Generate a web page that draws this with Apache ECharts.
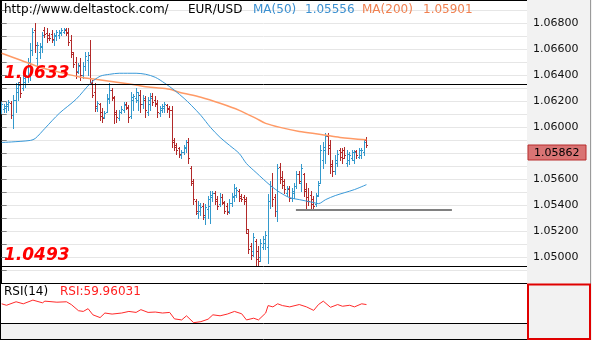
<!DOCTYPE html>
<html><head><meta charset="utf-8">
<script src="https://cdn.jsdelivr.net/npm/echarts@6/dist/echarts.min.js"></script>
<style>html,body{margin:0;padding:0;background:#f2f2f2}#c{width:592px;height:340px}</style>
</head><body><div id="c"></div>
<script>
// ---- data (EUR/USD OHLC bars, index = bar number) ----
const opens = [
1.06119,1.06135,1.06142,1.06158,1.06181,1.06088,1.06204,1.06266,1.06343,1.06297,
1.06343,1.06389,1.06474,1.06590,1.06744,1.06528,1.06574,1.06613,1.06744,1.06721,
1.06705,1.06713,1.06667,1.06697,1.06705,1.06721,1.06728,1.06744,1.06728,1.06667,
1.06559,1.06497,1.06428,1.06474,1.06397,1.06466,1.06512,1.06551,1.06335,1.06266,
1.06142,1.06173,1.06112,1.06073,1.06112,1.06212,1.06281,1.06219,1.06112,1.06065,
1.06112,1.06127,1.06173,1.06142,1.06081,1.06204,1.06219,1.06204,1.06243,1.06173,
1.06204,1.06112,1.06173,1.06235,1.06204,1.06181,1.06104,1.06127,1.06142,1.06165,
1.06142,1.06127,1.05896,1.05857,1.05834,1.05780,1.05803,1.05834,1.05880,1.05680,
1.05572,1.05433,1.05341,1.05356,1.05394,1.05310,1.05371,1.05394,1.05464,1.05495,
1.05448,1.05410,1.05464,1.05418,1.05394,1.05356,1.05418,1.05464,1.05479,1.05510,
1.05472,1.05464,1.05448,1.05186,1.05086,1.05048,1.05125,1.05048,1.05001,1.05078,
1.05109,1.05078,1.05433,1.05549,1.05464,1.05356,1.05695,1.05618,1.05587,1.05495,
1.05526,1.05456,1.05495,1.05549,1.05641,1.05572,1.05634,1.05526,1.05464,1.05479,
1.05448,1.05410,1.05479,1.05572,1.05742,1.05819,1.05926,1.05857,1.05718,1.05664,
1.05726,1.05819,1.05803,1.05826,1.05726,1.05742,1.05757,1.05749,1.05811,1.05772,
1.05780,1.05803,1.05896];
const highs = [
1.06189,1.06173,1.06189,1.06204,1.06196,1.06243,1.06335,1.06343,1.06381,1.06412,
1.06420,1.06528,1.06643,1.06759,1.06798,1.06651,1.06643,1.06728,1.06767,1.06759,
1.06721,1.06744,1.06721,1.06744,1.06744,1.06759,1.06759,1.06759,1.06759,1.06705,
1.06574,1.06536,1.06489,1.06528,1.06497,1.06574,1.06574,1.06667,1.06358,1.06335,
1.06196,1.06181,1.06142,1.06119,1.06250,1.06335,1.06297,1.06235,1.06127,1.06127,
1.06158,1.06189,1.06189,1.06165,1.06266,1.06250,1.06297,1.06266,1.06281,1.06243,
1.06235,1.06227,1.06258,1.06258,1.06235,1.06204,1.06158,1.06173,1.06189,1.06173,
1.06158,1.06158,1.05911,1.05873,1.05849,1.05819,1.05857,1.05896,1.05911,1.05703,
1.05603,1.05448,1.05433,1.05418,1.05418,1.05410,1.05472,1.05510,1.05510,1.05510,
1.05472,1.05495,1.05487,1.05433,1.05418,1.05448,1.05495,1.05564,1.05541,1.05526,
1.05487,1.05479,1.05464,1.05217,1.05109,1.05186,1.05140,1.05086,1.05140,1.05163,
1.05202,1.05487,1.05587,1.05649,1.05487,1.05718,1.05726,1.05664,1.05603,1.05549,
1.05549,1.05533,1.05572,1.05664,1.05664,1.05718,1.05649,1.05572,1.05533,1.05510,
1.05472,1.05495,1.05587,1.05857,1.05880,1.05950,1.05950,1.05896,1.05742,1.05780,
1.05819,1.05834,1.05834,1.05842,1.05819,1.05803,1.05819,1.05819,1.05826,1.05834,
1.05834,1.05896,1.05919];
const lows = [
1.06104,1.06112,1.06112,1.06127,1.06065,1.05988,1.06112,1.06204,1.06227,1.06281,
1.06304,1.06343,1.06358,1.06551,1.06574,1.06474,1.06528,1.06574,1.06690,1.06651,
1.06667,1.06651,1.06628,1.06667,1.06682,1.06705,1.06721,1.06705,1.06628,1.06536,
1.06458,1.06374,1.06412,1.06358,1.06374,1.06435,1.06397,1.06343,1.06227,1.06119,
1.06119,1.06050,1.06034,1.06065,1.06112,1.06181,1.06204,1.06027,1.06034,1.06050,
1.06104,1.06112,1.06135,1.06034,1.06065,1.06127,1.06189,1.06127,1.06112,1.06142,
1.06073,1.06088,1.06127,1.06165,1.06158,1.06073,1.06081,1.06112,1.06112,1.06112,
1.06073,1.05842,1.05819,1.05795,1.05772,1.05757,1.05788,1.05803,1.05726,1.05556,
1.05410,1.05333,1.05302,1.05325,1.05294,1.05256,1.05302,1.05263,1.05433,1.05410,
1.05371,1.05394,1.05410,1.05341,1.05333,1.05341,1.05394,1.05433,1.05464,1.05433,
1.05433,1.05410,1.05186,1.05032,1.04986,1.05009,1.04940,1.04932,1.04971,1.05063,
1.05063,1.04955,1.05379,1.05394,1.05317,1.05279,1.05572,1.05533,1.05495,1.05472,
1.05433,1.05433,1.05456,1.05533,1.05572,1.05510,1.05472,1.05364,1.05402,1.05364,
1.05371,1.05394,1.05472,1.05572,1.05687,1.05726,1.05795,1.05649,1.05626,1.05641,
1.05703,1.05742,1.05726,1.05757,1.05703,1.05718,1.05742,1.05726,1.05757,1.05757,
1.05757,1.05780,1.05849];
const closes = [
1.06173,1.06158,1.06173,1.06189,1.06088,1.06204,1.06297,1.06320,1.06258,1.06374,
1.06397,1.06497,1.06590,1.06728,1.06628,1.06628,1.06620,1.06705,1.06713,1.06682,
1.06682,1.06674,1.06705,1.06728,1.06728,1.06744,1.06751,1.06721,1.06651,1.06574,
1.06482,1.06420,1.06466,1.06397,1.06466,1.06543,1.06551,1.06374,1.06243,1.06158,
1.06181,1.06081,1.06065,1.06104,1.06219,1.06281,1.06227,1.06096,1.06073,1.06112,
1.06135,1.06165,1.06150,1.06073,1.06227,1.06235,1.06266,1.06243,1.06173,1.06219,
1.06127,1.06204,1.06219,1.06189,1.06173,1.06112,1.06142,1.06158,1.06173,1.06135,
1.06127,1.05880,1.05849,1.05819,1.05795,1.05803,1.05842,1.05880,1.05757,1.05587,
1.05448,1.05356,1.05402,1.05387,1.05325,1.05387,1.05448,1.05479,1.05495,1.05433,
1.05394,1.05464,1.05425,1.05356,1.05348,1.05418,1.05472,1.05533,1.05518,1.05456,
1.05448,1.05433,1.05217,1.05063,1.05017,1.05155,1.04986,1.04971,1.05109,1.05140,
1.05171,1.05433,1.05549,1.05448,1.05356,1.05680,1.05603,1.05556,1.05526,1.05533,
1.05456,1.05510,1.05549,1.05634,1.05587,1.05680,1.05510,1.05433,1.05433,1.05410,
1.05394,1.05472,1.05556,1.05819,1.05849,1.05926,1.05834,1.05703,1.05664,1.05742,
1.05788,1.05765,1.05757,1.05780,1.05795,1.05780,1.05803,1.05803,1.05780,1.05819,
1.05819,1.05880,1.05862];

// moving averages: [bar index, value]
const ma50 = [[0,1.05880],[4,1.05884],[12,1.05896],[14,1.05911],[18,1.05988],[24,1.06104],[31,1.06212],[37,1.06335],[41,1.06389],[45,1.06404],[49,1.06412],[56,1.06412],[60,1.06404],[64,1.06381],[68,1.06335],[72,1.06281],[76,1.06219],[79,1.06166],[83,1.06088],[87,1.05996],[91,1.05919],[95,1.05857],[99,1.05795],[102,1.05718],[106,1.05649],[112,1.05549],[116,1.05495],[120,1.05456],[124,1.05441],[130,1.05418],[132,1.05410],[135,1.05441],[139,1.05472],[143,1.05495],[147,1.05518],[152,1.05556]];
const ma200 = [[0,1.06566],[8,1.06512],[16,1.06458],[24,1.06420],[33,1.06381],[39,1.06366],[45,1.06351],[54,1.06327],[62,1.06304],[70,1.06289],[74,1.06266],[83,1.06227],[91,1.06181],[99,1.06127],[106,1.06065],[110,1.06027],[116,1.05996],[124,1.05965],[133,1.05942],[141,1.05919],[152,1.05901]];
// RSI(14): [bar index, value]
const rsi = [[0,61.2],[2,58.8],[6,64.5],[9,61.2],[13,67.2],[17,62.8],[18,65.5],[23,63.8],[27,64.5],[29,60],[32,50],[34,48.8],[36,53.3],[38,43.3],[41,38.8],[43,46.2],[46,44.5],[50,46.2],[53,48.8],[56,47.2],[58,51.7],[61,47.2],[64,47.8],[67,46.2],[70,47.2],[72,36.7],[75,35],[77,41.7],[80,30.5],[83,32.2],[86,36.2],[88,43.3],[91,41.7],[94,44.5],[97,48.8],[100,45],[102,35],[105,37.8],[107,35],[110,46.2],[111,58.3],[113,56.2],[115,61.2],[117,58.3],[120,56.2],[124,60],[127,56.2],[130,50.5],[132,60],[134,65.5],[137,55.5],[140,60],[142,57.2],[145,58.8],[147,56.2],[150,61.2],[152,59.96031]];

const levels = [1.0633, 1.0493];                       // horizontal levels
const support = {from: 122.6, to: 187.6, price: 1.05364}; // grey support segment (bar index range)
const labelValues = [1.050,1.052,1.054,1.056,1.058,1.060,1.062,1.064,1.066,1.068];
const tickValues = [1.049,1.050,1.051,1.052,1.053,1.054,1.055,1.056,1.057,1.058,1.059,1.060,1.061,1.062,1.063,1.064,1.065,1.066,1.067,1.068,1.069];
const header = {site: 'http://www.deltastock.com/', symbol: 'EUR/USD', ma50: 'MA(50)', ma200: 'MA(200)', rsi: 'RSI(14)'};

// ---- chart ----
const FONT = '"DejaVu Sans", Verdana, sans-serif';
const UP = '#3399cc', DOWN = '#b22a2a';
const bars = opens.map((o, i) => [i, o, highs[i], lows[i], closes[i]]);

function renderBar(params, api) {
  const i = api.value(0);
  const o = api.coord([i, api.value(1)]);
  const h = api.coord([i, api.value(2)]);
  const l = api.coord([i, api.value(3)]);
  const c = api.coord([i, api.value(4)]);
  const cx = Math.floor(o[0]) + 0.5;
  const color = api.value(4) >= api.value(1) ? UP : DOWN;
  const oy = Math.round(o[1]) + 0.5, cy = Math.round(c[1]) + 0.5;
  const st = {stroke: color, lineWidth: 1};
  return {type: 'group', children: [
    {type: 'line', shape: {x1: cx, y1: Math.round(h[1]), x2: cx, y2: Math.round(l[1]) + 1}, style: st},
    {type: 'line', shape: {x1: cx - 1.5, y1: oy, x2: cx, y2: oy}, style: st},
    {type: 'line', shape: {x1: cx, y1: cy, x2: cx + 1.5, y2: cy}, style: st}
  ]};
}

const XMAX = -0.7 + 527 / 2.4;
const levelLabel = {show: true, position: 'insideStartTop', distance: [4, 2], color: '#ff0000',
  fontSize: 17, fontWeight: 'bold', fontStyle: 'italic', fontFamily: FONT};

const chart = echarts.init(document.getElementById('c'), null, {renderer: 'canvas', width: 592, height: 340});
chart.setOption({
  animation: false,
  backgroundColor: '#f2f2f2',
  grid: [
    {left: 0, top: 0, width: 527, height: 283, show: true, backgroundColor: '#fff', borderWidth: 0, containLabel: false, outerBoundsMode: 'none'},
    {left: 0, top: 283, width: 527, height: 40, show: true, backgroundColor: '#fff', borderWidth: 0, containLabel: false, outerBoundsMode: 'none'}
  ],
  xAxis: [
    {type: 'value', gridIndex: 0, min: -0.7, max: XMAX, show: false},
    {type: 'value', gridIndex: 1, min: -0.7, max: XMAX, show: false}
  ],
  yAxis: [
    {type: 'value', gridIndex: 0, position: 'right', min: 1.048, max: 1.06975, interval: 0.002,
     axisLine: {show: true, lineStyle: {color: '#000', width: 1}},
     axisTick: {show: true, inside: false, length: 5, customValues: tickValues, lineStyle: {color: '#808080'}},
     minorTick: {show: false},
     axisLabel: {show: true, customValues: labelValues, margin: 6, color: '#111', fontFamily: FONT, fontSize: 11,
       formatter: v => (v < 1.0495 || v > 1.0685) ? '' : v.toFixed(5)},
     splitLine: {show: true, lineStyle: {color: '#e6e6e6', width: 1}}},
    {type: 'value', gridIndex: 0, position: 'left', min: 1.048, max: 1.06975, interval: 0.002,
     axisLine: {show: false},
     axisTick: {show: true, inside: true, length: 2, customValues: labelValues, lineStyle: {color: '#444'}},
     axisLabel: {show: false}, splitLine: {show: false}},
    {type: 'value', gridIndex: 1, min: 30, max: 95, show: false}
  ],
  series: [
    {type: 'custom', name: 'EUR/USD', xAxisIndex: 0, yAxisIndex: 0, renderItem: renderBar, data: bars,
     encode: {x: 0, y: [1, 2, 3, 4]}, clip: true, silent: true, z: 2},
    {type: 'line', name: 'MA200', xAxisIndex: 0, yAxisIndex: 0, data: ma200, showSymbol: false, smooth: 0.3,
     lineStyle: {color: '#ff9a66', width: 1.5}, silent: true, z: 3,
     markLine: {silent: true, symbol: ['none', 'none'], animation: false, precision: 5,
       data: [
         {yAxis: levels[0], lineStyle: {color: '#000', width: 1, type: 'solid'}, label: Object.assign({formatter: levels[0].toFixed(4)}, levelLabel)},
         {yAxis: levels[1], lineStyle: {color: '#000', width: 1, type: 'solid'}, label: Object.assign({formatter: levels[1].toFixed(4)}, levelLabel)},
         [{coord: [support.from, support.price], lineStyle: {color: '#808080', width: 2, type: 'solid'}, label: {show: false}},
          {coord: [support.to, support.price]}]
       ]}},
    {type: 'line', name: 'MA50', xAxisIndex: 0, yAxisIndex: 0, data: ma50, showSymbol: false, smooth: 0.3,
     lineStyle: {color: '#3a9ad9', width: 1}, silent: true, z: 3},
    {type: 'line', name: 'RSI', xAxisIndex: 1, yAxisIndex: 2, data: rsi, showSymbol: false,
     lineStyle: {color: '#ff2a2a', width: 1}, silent: true, z: 3}
  ]
});

const lastClose = closes[closes.length - 1];
const py = Math.round(chart.convertToPixel({yAxisIndex: 0}, lastClose));
const t = (id, x, y, text, fill, size) => ({type: 'text', id, x, y, z: 100,
  style: {text, fill, font: (size || 12) + 'px ' + FONT, verticalAlign: 'middle'}});
const ln = (id, x1, y1, x2, y2, color) => ({type: 'line', id, z: 90, shape: {x1, y1, x2, y2}, style: {stroke: color, lineWidth: 1}});

chart.setOption({graphic: {elements: [
  ln('top', 0, 0.5, 527, 0.5, '#000'),
  ln('left', 0.5, 0, 0.5, 340, '#000'),
  ln('sep1', 0, 283.5, 527, 283.5, '#000'),
  ln('sep2', 0, 323.5, 527, 323.5, '#000'),
  ln('bottom', 0, 339.5, 527, 339.5, '#000'),
  ln('redge', 590.5, 0, 590.5, 284, '#9a9a9a'),
  {type: 'rect', id: 'rsibox', z: 95, shape: {x: 528, y: 284.5, width: 62, height: 54.5}, style: {fill: 'none', stroke: '#e00000', lineWidth: 2}},
  t('h1', 4, 10, header.site, '#000'),
  t('h2', 188, 10, header.symbol, '#000'),
  t('h3', 253, 10, header.ma50, '#3a8fd0'),
  t('h4', 305, 10, ma50[ma50.length - 1][1].toFixed(5), '#3a8fd0'),
  t('h5', 362, 10, header.ma200, '#f08050'),
  t('h6', 423, 10, ma200[ma200.length - 1][1].toFixed(5), '#f08050'),
  t('r1', 4, 292, header.rsi, '#000'),
  t('r2', 60, 292, 'RSI:' + rsi[rsi.length - 1][1].toFixed(5), '#ff2020'),
  {type: 'group', id: 'pricebox', x: 528, y: py, z: 110, children: [
    {type: 'rect', z: 110, shape: {x: 0, y: 0, width: 58, height: 15}, style: {fill: '#d97474', stroke: '#b82c2c', lineWidth: 1}},
    {type: 'text', z: 111, x: 6, y: 8, style: {text: lastClose.toFixed(5), fill: '#000', font: '11px ' + FONT, verticalAlign: 'middle'}}
  ]}
]}});
</script>
</body></html>
